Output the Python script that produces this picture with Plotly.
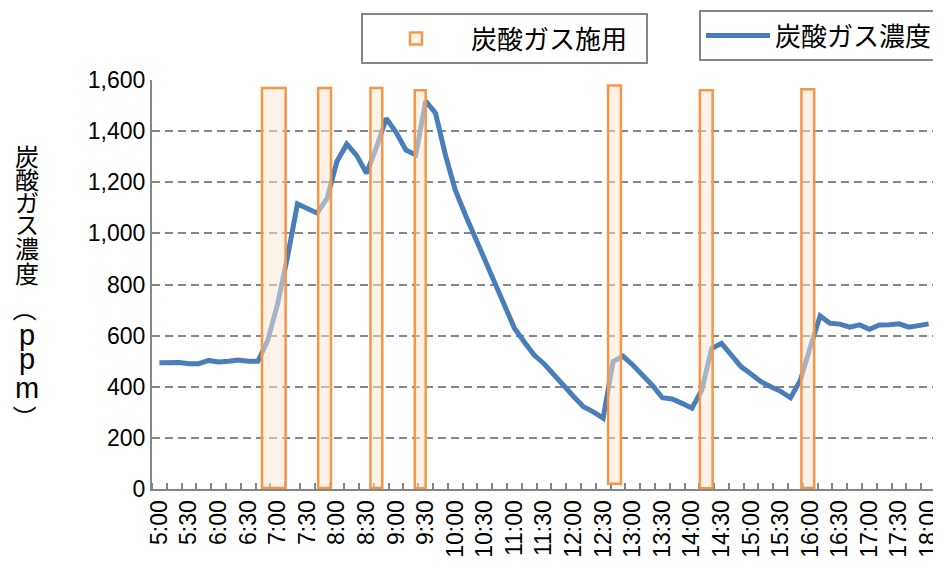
import plotly.graph_objects as go

# ---------------- data ----------------
times = [f"{h}:{m:02d}" for h in range(5, 19) for m in range(0, 60, 10)][:79]
co2 = [494, 495, 495, 490, 490, 503, 497, 500, 505, 500,
       500, 583, 726, 910, 1115, 1097, 1079, 1137, 1281, 1349,
       1305, 1235, 1335, 1450, 1395, 1326, 1307, 1518, 1470, 1307,
       1170, 1075, 985, 903, 808, 713, 629, 575, 524, 490,
       450, 405, 362, 322, 302, 277, 498, 520, 485, 447,
       405, 357, 352, 335, 316, 387, 550, 570, 525, 478,
       450, 420, 400, 382, 357, 426, 555, 677, 648, 645,
       633, 642, 625, 642, 643, 646, 633, 640, 646]

apply_start = ["6:44", "7:41", "8:34", "9:19", "12:35", "14:08", "15:51"]
apply_end = ["7:08", "7:54", "8:46", "9:30", "12:48", "14:21", "16:04"]
apply_top = [1569, 1569, 1569, 1560, 1578, 1560, 1564]
apply_bottom = [4, 4, 4, 3, 21, 3, 4]

tick_labels = ["5:00", "5:30", "6:00", "6:30", "7:00", "7:30", "8:00", "8:30",
               "9:00", "9:30", "10:00", "10:30", "11:00", "11:30", "12:00",
               "12:30", "13:00", "13:30", "14:00", "14:30", "15:00", "15:30",
               "16:00", "16:30", "17:00", "17:30", "18:00"]

y_title = "炭酸ガス濃度（ppm）"


def to_h(s):
    h, m = s.split(":")
    return int(h) + int(m) / 60.0


# ---------------- styles ----------------
BLUE = "#4A7EBB"
ORANGE = "#F79646"
FILL = "rgba(251,230,211,0.52)"
GRAY = "#868686"
FONT = "Liberation Sans, Arial, Noto Sans CJK JP, sans-serif"
CJK = "Noto Sans CJK JP, Liberation Sans, sans-serif"

x_h = [to_h(t) for t in times]
s_h = [to_h(s) for s in apply_start]
e_h = [to_h(e) for e in apply_end]
tick_vals = [to_h(t) for t in tick_labels]

XR = [4.875, 18.125]
YR = [0, 1600]
# page has an 8px body margin; the figure is sized/placed to compensate
W, H = 933, 558
L, R, T, B = 144, 5, 72, 77
PW, PH = W - L - R, H - T - B


def px(xf):
    return (xf - L) / PW


def py(yf):
    return (H - B - yf) / PH


fig = go.Figure()
fig.add_trace(go.Scatter(
    x=x_h, y=co2, mode="lines", name="炭酸ガス濃度",
    line=dict(color=BLUE, width=5), legend="legend2", showlegend=True,
))

# CO2 application periods: translucent boxes drawn above the line
for i, (x0, x1, y0, y1) in enumerate(zip(s_h, e_h, apply_bottom, apply_top)):
    fig.add_shape(
        type="rect", xref="x", yref="y", x0=x0, x1=x1, y0=y0, y1=y1,
        layer="above", fillcolor=FILL,
        line=dict(color=ORANGE, width=2.5),
        name="炭酸ガス施用", legend="legend", legendgroup="apply",
        showlegend=(i == 0),
    )

minor_vals = [XR[0] + 0.25 * k for k in range(54)]

fig.update_layout(
    width=W, height=H,
    margin=dict(l=L, r=R, t=T, b=B, autoexpand=False),
    paper_bgcolor="white", plot_bgcolor="white",
    font=dict(family=FONT, size=23, color="black"),
    showlegend=True,
    xaxis=dict(
        range=XR, tickmode="array", tickvals=tick_vals, ticktext=tick_labels,
        tickangle=-90, ticks="", ticklen=0, showgrid=False, zeroline=False,
        showline=True, linecolor=GRAY, linewidth=2, automargin=False,
        ticklabeloverflow="allow",
        tickfont=dict(family=FONT, size=23, color="black"),
        minor=dict(tickmode="array", tickvals=minor_vals, ticks="inside",
                   ticklen=6, tickwidth=1.5, tickcolor=GRAY, showgrid=False),
    ),
    yaxis=dict(
        range=YR, dtick=200, tickformat=",", ticks="", ticklen=0,
        showgrid=True, gridcolor=GRAY, gridwidth=2, griddash="8px,5px",
        zeroline=False, showline=True, linecolor=GRAY, linewidth=2,
        automargin=False,
        tickfont=dict(family=FONT, size=23, color="black"),
    ),
    legend=dict(
        x=px(353), y=py(5), xanchor="left", yanchor="top",
        orientation="h", entrywidth=170, entrywidthmode="pixels",
        bordercolor=GRAY, borderwidth=2, bgcolor="white",
        font=dict(family=CJK, size=26, color="black"), itemwidth=100,
    ),
    legend2=dict(
        x=px(691), y=py(2), xanchor="left", yanchor="top",
        bordercolor=GRAY, borderwidth=2, bgcolor="white",
        font=dict(family=CJK, size=26, color="black"), itemwidth=64,
    ),
)

# vertical (stacked) y-axis title: one character per line, brackets turned
title_y_page = [155, 178, 201, 223, 247, 272, 309, 335, 359, 388, 417]
for ch, yp in zip(y_title, title_y_page):
    latin = ch in "pm"
    fig.add_annotation(
        text=ch, xref="paper", yref="paper",
        x=px(26.5 - 8), y=py(yp - 8), xanchor="center", yanchor="middle",
        showarrow=False, textangle=90 if ch in "（）" else 0,
        font=dict(family=FONT if latin else CJK, size=29 if latin else 24,
                  color="black"),
    )

fig.write_html("out.html")
